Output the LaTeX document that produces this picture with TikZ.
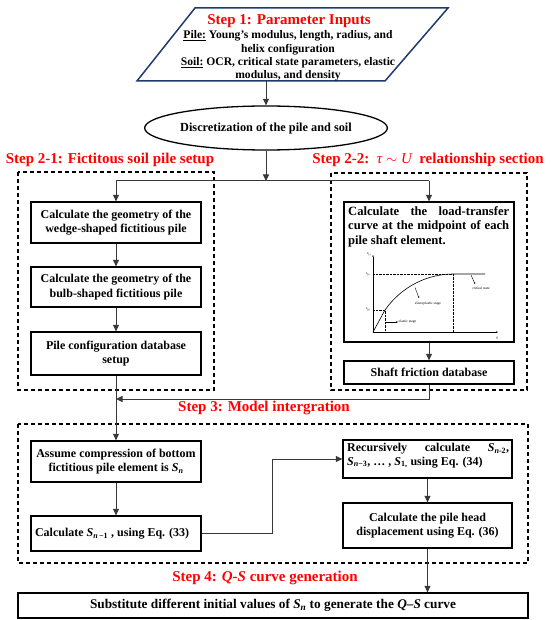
\documentclass[tikz,border=0pt]{standalone}
\usepackage{fontspec}
\setmainfont{Liberation Serif}
\usetikzlibrary{arrows.meta,shapes.geometric}
\definecolor{pblue}{HTML}{1F3B6B}
\definecolor{stepred}{HTML}{FF0000}
\definecolor{lgray}{HTML}{383838}
\begin{document}
\begin{tikzpicture}[x=1pt,y=-1pt,
  box/.style={draw=black,line width=1.3pt,rectangle,inner sep=2pt,
    font=\bfseries\fontsize{12}{14.5}\selectfont,align=center},
  dbox/.style={draw=black,line width=1.1pt,dash pattern=on 4pt off 3pt},
  steplbl/.style={text=stepred,font=\bfseries\fontsize{15}{17}\selectfont,inner sep=0pt},
  arr/.style={draw=lgray,line width=1pt,-{Triangle[length=6.5pt,width=6pt]}},
  ln/.style={draw=lgray,line width=1pt},
  tiny/.style={font=\fontsize{3.6}{4}\selectfont,inner sep=0.5pt},
  dot/.style={draw=black,line width=0.4pt,densely dotted},
  garr/.style={draw=black,line width=0.4pt,-{Triangle[length=1.6pt,width=1.4pt]}},
]
\useasboundingbox (0,0) rectangle (550,620);

% Step 1 parallelogram
\coordinate (p1) at (195,8);
\coordinate (p2) at (448,8);
\coordinate (p3) at (385,81);
\coordinate (p4) at (137,81);
\coordinate (pbot) at (266,81);
\draw[pblue,line width=1.5pt,line join=miter] (p1)--(p2)--(p3)--(p4)--cycle;
\node[steplbl] (s1) at (289,21) {Step 1: Parameter Inputs};
\node[font=\bfseries\fontsize{11.6}{13.4}\selectfont,align=center,inner sep=0pt] (ptext) at (288,56)
 {\underline{Pile:} Young’s modulus, length, radius, and\\
  helix configuration\\
  \underline{Soil:} OCR, critical state parameters, elastic\\
  modulus, and density};

% ellipse
\node[ellipse,draw=black,line width=1.3pt,minimum width=230,minimum height=44,
  font=\bfseries\fontsize{12.3}{14}\selectfont,inner sep=0pt] (disc) at (266,128)
  {Discretization of the pile and soil};

% step labels
\node[steplbl] (s21) at (110,160) {Step 2-1: Fictitous soil pile setup};
\node[steplbl] (s22) at (428,160) {Step 2-2:\enspace{\mdseries\itshape τ} $\sim$ {\mdseries\itshape U}\enspace relationship section};
\node[steplbl] (s3) at (264,408) {Step 3: Model intergration};
\node[steplbl] (s4) at (265,578) {Step 4: \textit{Q-S} curve generation};

% dashed frames
\draw[dbox] (18,172) rectangle (214,390);
\draw[dbox] (331,173) rectangle (527,390);
\draw[dbox] (18,424) rectangle (528,563);

% left column
\node[box,minimum width=170,minimum height=41] (b1) at (116,222.5)
  {Calculate the geometry of the\\wedge-shaped fictitious pile};
\node[box,minimum width=170,minimum height=40] (b2) at (116,287)
  {Calculate the geometry of the\\bulb-shaped fictitious pile};
\node[box,minimum width=170,minimum height=43] (b3) at (116,353.5)
  {Pile configuration database\\setup};

% right column
\node[box,minimum width=170,minimum height=140] (rb1) at (429,272) {};
\node[font=\bfseries\fontsize{12.6}{14.5}\selectfont,text width=161,align=flush left,
  inner sep=0pt,anchor=north west] (rb1t) at (348,206)
  {Calculate\hfill the\hfill load-transfer\\
   curve\hfill at\hfill the\hfill midpoint\hfill of\hfill each\\
   pile shaft element.};
\node[box,minimum width=170,minimum height=23] (shaft) at (429,372.5)
  {Shaft friction database};

% small graph
\coordinate (O) at (373,332);
\coordinate (gy) at (373,255);
\coordinate (gx) at (498,332);
\draw[garr] (O) -- (gy);
\draw[garr] (O) -- (gx);
\coordinate (gp) at (385,310);
\coordinate (gu) at (453,274);
\draw[dot] (373,274) -- (gu) -- (453,332);
\draw[dot] (373,310) -- (gp) -- (385,332);
\draw[black,line width=0.6pt] (O) -- (gp) .. controls (402,286) and (428,274) .. (gu) -- (485,274);
\node[tiny,anchor=east] (ts) at (372,254) {\itshape τ\textsubscript{f,s}};
\node[tiny,anchor=east] (tu) at (371,274) {\itshape τ\textsubscript{f,u}};
\node[tiny,anchor=east] (tp) at (371,309) {\itshape τ\textsubscript{f,p}};
\node[tiny,anchor=west] (les) at (398,322) {elastic stage};
\node[tiny] (lep) at (428,303.5) {elastoplastic stage};
\node[tiny] (lcs) at (481,288.5) {critical state};
\node[tiny] (lS) at (497,338) {\itshape S};
\draw[garr] (385,322) -- (les.west);
\draw[garr] (415,287.5) -- (419,298);
\draw[garr] (471,275) -- (475,284);

% step 3
\node[box,minimum width=170,minimum height=41] (bA) at (116,461.5)
  {Assume compression of bottom\\fictitious pile element is \textit{S}\textsubscript{\textit{n}}};
\node[box,minimum width=170,minimum height=35,text width=162,align=flush left] (bB) at (116,533.5)
  {Calculate \textit{S}\textsubscript{\textit{n}\,−1} , using Eq. (33)};
\node[box,minimum width=169,minimum height=38] (bC) at (427.5,459) {};
\node[font=\bfseries\fontsize{12}{13.5}\selectfont,text width=162,align=flush left,
  inner sep=0pt,anchor=north west] (bCt) at (347,443)
  {Recursively\hfill calculate\hfill \textit{S}\textsubscript{\textit{n}-2},\\
   \textit{S}\textsubscript{\textit{n}−3}, \ldots\ , \textit{S}\textsubscript{1,} using Eq. (34)};
\node[box,minimum width=169,minimum height=45] (bD) at (427.5,525.5)
  {Calculate the pile head\\displacement using Eq. (36)};

% final
\node[box,minimum width=510,minimum height=25,font=\bfseries\fontsize{13.3}{15}\selectfont] (fin) at (273,605.5)
  {Substitute different initial values of \textit{S}\textsubscript{\textit{n}} to generate the \textit{Q–S} curve};

% connectors
\coordinate (split) at (266,181);
\coordinate (lsplit) at (116,181);
\coordinate (rsplit) at (429,181);
\coordinate (join) at (116,399);
\draw[arr] (pbot) -- (disc.north);
\draw[arr] (disc.south) -- (split);
\draw[ln] (lsplit) -- (rsplit);
\draw[arr] (lsplit) -- (b1.north);
\draw[arr] (rsplit) -- (rb1.north);
\draw[arr] (b1) -- (b2);
\draw[arr] (b2) -- (b3);
\draw[arr] (rb1) -- (shaft);
\draw[arr] (b3) -- (bA);
\draw[arr] (shaft.south) |- (join);
\draw[arr] (bA) -- (bB);
\draw[arr] (bB.east) -- ++(71,0) |- (bC.west);
\draw[arr] (bC.south -| bD.north) -- (bD.north);
\draw[arr] (bD.south) -- (bD.south |- fin.north);
\end{tikzpicture}
\end{document}
